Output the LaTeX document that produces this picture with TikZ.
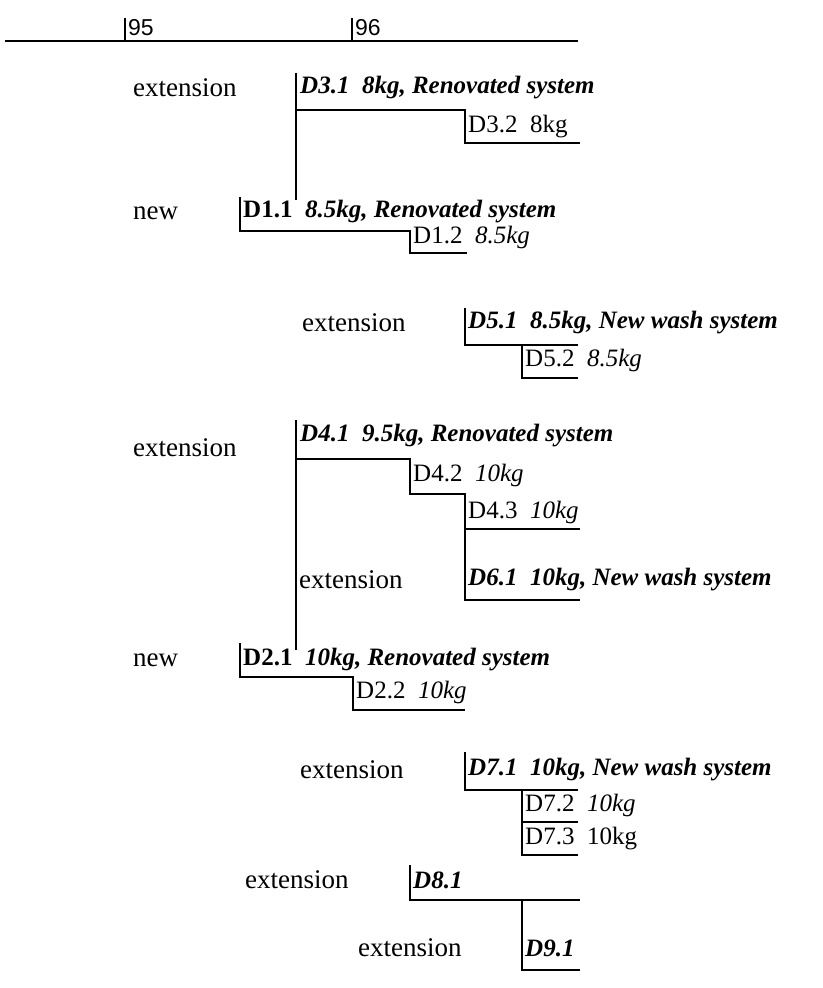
\documentclass[tikz,border=0pt]{standalone}
\usepackage{fontspec}
\setmainfont{Liberation Serif}
\newfontfamily\axisfont{Liberation Sans}
\usepackage{tikz}
\usetikzlibrary{calc}

\tikzset{
    lbl/.style={anchor=west, inner sep=0pt, font=\fontsize{27}{31}\selectfont},
    code/.style={anchor=west, inner sep=0pt, font=\fontsize{25}{29}\selectfont},
    yr/.style={anchor=west, inner sep=0pt, font=\axisfont\fontsize{23}{27}\selectfont},
    bar/.style={line width=2.4pt}
}

\begin{document}
\begin{tikzpicture}[x=1pt,y=-1pt]

\useasboundingbox (0,0) rectangle (822,988);

% Time axis
\draw[bar] (5,41) -- (578,41);
\draw[bar] (125,18) -- (125,41);
\draw[bar] (352,18) -- (352,41);
\node[yr] (y95) at (128,28) {95};
\node[yr] (y96) at (355,28) {96};

% D3 extension
\node[lbl] (e3) at (133,88) {extension};
\node[code] (d31) at (300,88) {\textbf{\textit{D3.1\ \ 8kg, Renovated system}}};
\node[code] (d32) at (468,127) {D3.2\ \ 8kg};
\draw[bar] (296,73) -- (296,200);
\draw[bar] (296,110) -- (465,110) -- (465,143) -- (580,143);

% D1 new
\node[lbl] (n1) at (133,213) {new};
\node[code] (d11) at (243,212) {\textbf{D1.1}\ \ \textbf{\textit{8.5kg, Renovated system}}};
\node[code] (d12) at (413,237) {D1.2\ \ \textit{8.5kg}};
\draw[bar] (240,197) -- (240,231) -- (410,231) -- (410,253) -- (467,253);

% D5 extension
\node[lbl] (e5) at (302,323) {extension};
\node[code] (d51) at (468,323) {\textbf{\textit{D5.1\ \ 8.5kg, New wash system}}};
\node[code] (d52) at (525,360) {D5.2\ \ \textit{8.5kg}};
\draw[bar] (465,308) -- (465,345) -- (578,345);
\draw[bar] (522,345) -- (522,378) -- (578,378);

% D4 extension
\node[lbl] (e4) at (133,448) {extension};
\node[code] (d41) at (300,436) {\textbf{\textit{D4.1\ \ 9.5kg, Renovated system}}};
\node[code] (d42) at (413,475) {D4.2\ \ \textit{10kg}};
\node[code] (d43) at (468,512) {D4.3\ \ \textit{10kg}};
\draw[bar] (296,420) -- (296,650);
\draw[bar] (296,459) -- (410,459) -- (410,494) -- (465,494) -- (465,600) -- (580,600);
\draw[bar] (465,529) -- (580,529);

% D6 extension
\node[lbl] (e6) at (299,580) {extension};
\node[code] (d61) at (468,580) {\textbf{\textit{D6.1\ \ 10kg, New wash system}}};

% D2 new
\node[lbl] (n2) at (133,660) {new};
\node[code] (d21) at (243,660) {\textbf{D2.1}\ \ \textbf{\textit{10kg, Renovated system}}};
\node[code] (d22) at (356,692) {D2.2\ \ \textit{10kg}};
\draw[bar] (240,643) -- (240,677) -- (353,677) -- (353,710) -- (465,710);

% D7 extension
\node[lbl] (e7) at (300,770) {extension};
\node[code] (d71) at (468,770) {\textbf{\textit{D7.1\ \ 10kg, New wash system}}};
\node[code] (d72) at (525,805) {D7.2\ \ \textit{10kg}};
\node[code] (d73) at (525,839) {D7.3\ \ 10kg};
\draw[bar] (465,752) -- (465,790) -- (578,790);
\draw[bar] (522,790) -- (522,855) -- (578,855);
\draw[bar] (522,822) -- (578,822);

% D8 and D9 extensions
\node[lbl] (e8) at (245,880) {extension};
\node[code] (d81) at (413,880) {\textbf{\textit{D8.1}}};
\node[lbl] (e9) at (358,948) {extension};
\node[code] (d91) at (525,948) {\textbf{\textit{D9.1}}};
\draw[bar] (410,865) -- (410,900) -- (580,900);
\draw[bar] (522,900) -- (522,970) -- (580,970);

\end{tikzpicture}
\end{document}
